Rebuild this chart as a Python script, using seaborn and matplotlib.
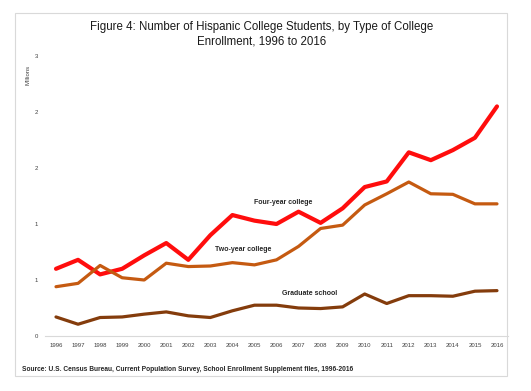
import numpy as np
import pandas as pd
import matplotlib.pyplot as plt
import seaborn as sns
from matplotlib.patches import Rectangle

# values, in millions
years = list(range(1996, 2017))
four_year = [0.60, 0.68, 0.55, 0.60, 0.72, 0.83, 0.68, 0.90, 1.08, 1.03, 1.00, 1.11, 1.01, 1.14,
             1.33, 1.38, 1.64, 1.57, 1.66, 1.77, 2.05]
two_year = [0.44, 0.47, 0.63, 0.52, 0.50, 0.65, 0.62, 0.625, 0.655, 0.635, 0.68, 0.80, 0.96, 0.99,
            1.17, 1.27, 1.375, 1.27, 1.265, 1.18, 1.18]
graduate = [0.17, 0.105, 0.165, 0.17, 0.195, 0.215, 0.18, 0.165, 0.225, 0.275, 0.275, 0.25, 0.245, 0.26,
            0.375, 0.29, 0.36, 0.36, 0.355, 0.40, 0.405]
y_ticks = [0, 0.5, 1, 1.5, 2, 2.5]
y_tick_labels = ['0', '1', '1', '2', '2', '3']

red = '#FF0D0D'
orange = '#C55A11'
brown = '#843C0C'

sns.set_style('white')
plt.rcParams['font.family'] = ['Liberation Sans', 'DejaVu Sans']

fig = plt.figure(figsize=(5.31, 3.91), dpi=100)
fig.patches.append(Rectangle((0.028, 0.038), 0.927, 0.928, transform=fig.transFigure,
                             fill=False, edgecolor='#D9D9D9', lw=0.8))
ax = fig.add_axes([0.0847, 0.1407, 0.872, 0.716])

sns.lineplot(x=years, y=four_year, color=red, lw=3, ax=ax)
sns.lineplot(x=years, y=two_year, color=orange, lw=2.3, ax=ax)
sns.lineplot(x=years, y=graduate, color=brown, lw=2.3, ax=ax)

ax.set_xlim(1995.5, 2016.5)
ax.set_ylim(0, 2.5)
ax.set_xticks(years)
ax.set_xticklabels([str(y) for y in years], fontsize=4.3, color='#404040')
ax.set_yticks(y_ticks)
ax.set_yticklabels(y_tick_labels, fontsize=4.3, color='#404040')
ax.tick_params(length=0, pad=5)
for s in ['top', 'right', 'left']:
    ax.spines[s].set_visible(False)
ax.spines['bottom'].set_color('#D9D9D9')
ax.spines['bottom'].set_linewidth(0.8)

# series labels sit next to the lines
ax.text(2006.3, 1.19, 'Four-year college', fontsize=5.0, fontweight='bold', ha='center', va='center')
ax.text(2004.5, 0.77, 'Two-year college', fontsize=5.0, fontweight='bold', ha='center', va='center')
ax.text(2007.5, 0.375, 'Graduate school', fontsize=5.0, fontweight='bold', ha='center', va='center')

fig.text(0.053, 0.808, 'Millions', rotation=90, fontsize=4.3, color='#404040', ha='center', va='center')
fig.text(0.493, 0.931, 'Figure 4: Number of Hispanic College Students, by Type of College',
         fontsize=8.3, ha='center', va='center', color='#1a1a1a')
fig.text(0.493, 0.893, 'Enrollment, 1996 to 2016', fontsize=8.3, ha='center', va='center', color='#1a1a1a')
fig.text(0.041, 0.056, 'Source: U.S. Census Bureau, Current Population Survey, School Enrollment Supplement files, 1996-2016',
         fontsize=4.8, fontweight='bold', ha='left', va='center')

fig.savefig('out.png', dpi=100)
